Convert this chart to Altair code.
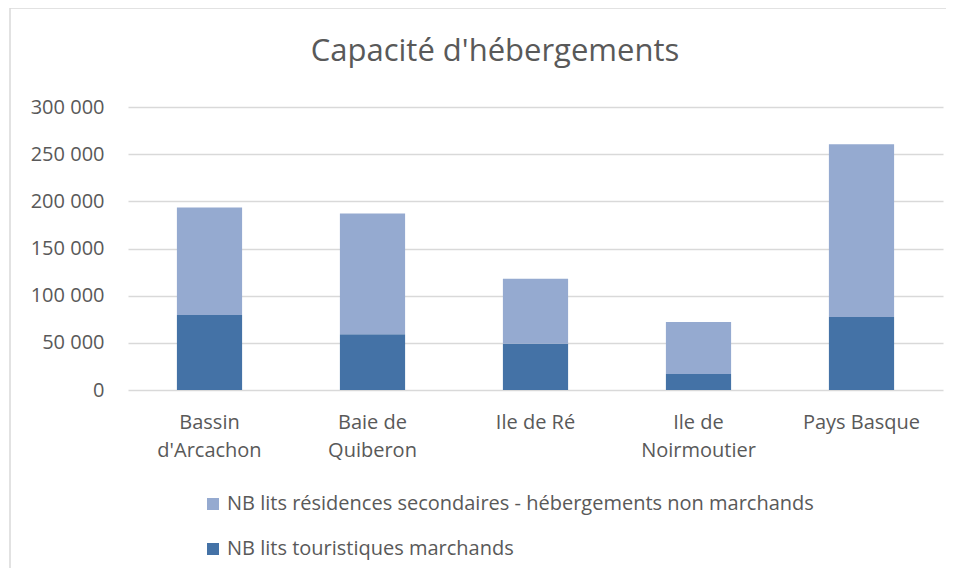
import altair as alt
import pandas as pd

title_text = ["Capacité d'hébergements"]
categories = ["Bassin|d'Arcachon", "Baie de|Quiberon", "Ile de Ré", "Ile de|Noirmoutier", "Pays Basque"]
series = ["NB lits résidences secondaires - hébergements non marchands", "NB lits touristiques marchands"]
marchands = [79500, 59000, 49000, 17000, 77500]
non_marchands = [114000, 128000, 69000, 55000, 183000]
colors = ["#95AAD0", "#4472A6"]

rows = []
for i, c in enumerate(categories):
    rows.append({"cat": c, "serie": series[1], "val": marchands[i], "ord": 0})
    rows.append({"cat": c, "serie": series[0], "val": non_marchands[i], "ord": 1})
df = pd.DataFrame(rows)

FONT = "Open Sans"
TXT = "#595959"

bars = alt.Chart(df).mark_bar().encode(
    x=alt.X("cat:N", sort=categories, title=None,
            scale=alt.Scale(paddingInner=0.6, paddingOuter=0.3),
            axis=alt.Axis(labelAngle=0, labelExpr="split(datum.label, '|')",
                          labelLineHeight=28, labelPadding=22, ticks=False, tickSize=0,
                          domain=False, grid=False, labelFontSize=20, labelColor=TXT,
                          labelFont=FONT)),
    y=alt.Y("val:Q", stack="zero", title=None,
            scale=alt.Scale(domain=[0, 300000], nice=False),
            axis=alt.Axis(values=[0, 50000, 100000, 150000, 200000, 250000, 300000],
                          labelExpr="replace(format(datum.value, ','), ',', ' ')",
                          ticks=False, tickSize=0, domain=False, grid=True,
                          gridColor="#D9D9D9", gridWidth=1.5, labelPadding=24,
                          labelFontSize=20, labelColor=TXT, labelFont=FONT)),
    color=alt.Color("serie:N", scale=alt.Scale(domain=series, range=colors),
                    legend=alt.Legend(title=None, orient="none", legendX=75, legendY=387,
                                      direction="vertical", symbolType="square",
                                      symbolSize=144, symbolStrokeWidth=0,
                                      labelFontSize=20, labelColor=TXT, labelFont=FONT,
                                      labelOffset=4, rowPadding=25, padding=0,
                                      labelLimit=800)),
    order=alt.Order("ord:Q", sort="ascending"),
)

title_df = pd.DataFrame({"t": title_text})
title = alt.Chart(title_df).mark_text(
    font=FONT, fontSize=31, color=TXT, align="center", baseline="alphabetic"
).encode(text="t:N", x=alt.value(367), y=alt.value(-46))

frame_df = pd.DataFrame({"k": [0]})
left_line = alt.Chart(frame_df).mark_rule(color="#D9D9D9", strokeWidth=1.5).encode(
    x=alt.value(-118), y=alt.value(-99), y2=alt.value(480))
top_line = alt.Chart(frame_df).mark_rule(color="#D9D9D9", strokeWidth=1.5).encode(
    x=alt.value(-118), x2=alt.value(818), y=alt.value(-99))

chart = alt.layer(bars, title, left_line, top_line).properties(
    width=815, height=283,
    autosize=alt.AutoSizeParams(type="none"),
    padding={"left": 120, "top": 99, "right": 6, "bottom": 178},
).configure(background="white", view=alt.ViewConfig(stroke="transparent", strokeWidth=0))

chart.save("out.html", embed_options={"renderer": "svg", "actions": False})
